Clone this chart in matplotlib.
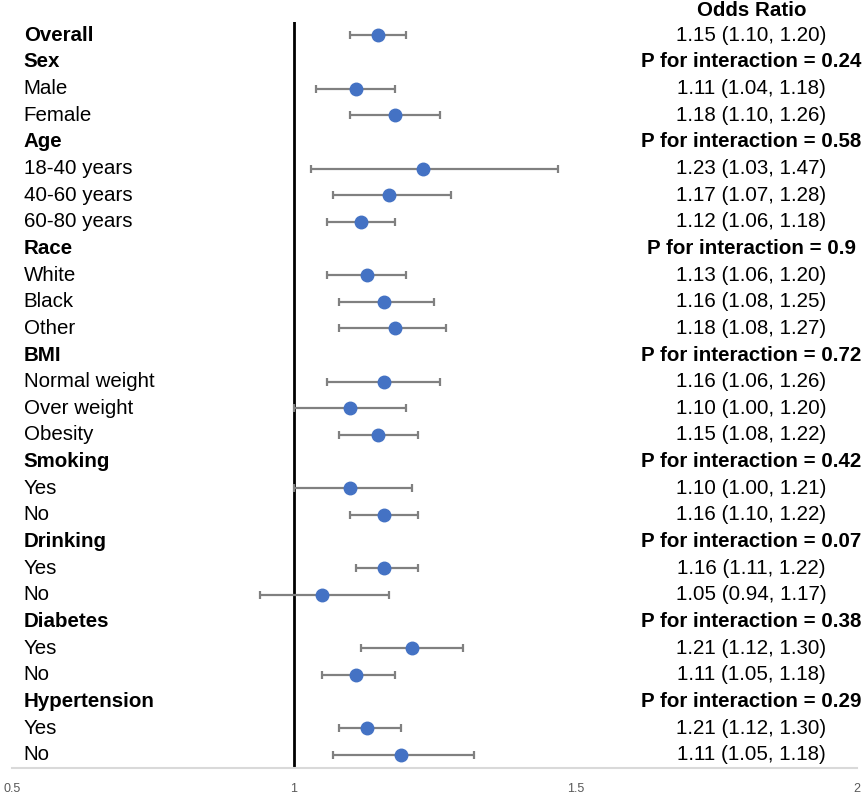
import matplotlib.pyplot as plt
import numpy as np

plt.rcParams['font.family'] = ['Liberation Sans', 'DejaVu Sans']

# rows, top to bottom; None estimate -> group header row
labels = ["Overall", "Sex", "Male", "Female", "Age", "18-40 years", "40-60 years",
          "60-80 years", "Race", "White", "Black", "Other", "BMI", "Normal weight",
          "Over weight", "Obesity", "Smoking", "Yes", "No", "Drinking", "Yes", "No",
          "Diabetes", "Yes", "No", "Hypertension", "Yes", "No"]

# plotted point estimates and CIs (as drawn)
est = [1.15, None, 1.11, 1.18, None, 1.23, 1.17, 1.12, None, 1.13, 1.16, 1.18,
       None, 1.16, 1.10, 1.15, None, 1.10, 1.16, None, 1.16, 1.05, None, 1.21,
       1.11, None, 1.13, 1.19]
lo = [1.10, None, 1.04, 1.10, None, 1.03, 1.07, 1.06, None, 1.06, 1.08, 1.08,
      None, 1.06, 1.00, 1.08, None, 1.00, 1.10, None, 1.11, 0.94, None, 1.12,
      1.05, None, 1.08, 1.07]
hi = [1.20, None, 1.18, 1.26, None, 1.47, 1.28, 1.18, None, 1.20, 1.25, 1.27,
      None, 1.26, 1.20, 1.22, None, 1.21, 1.22, None, 1.22, 1.17, None, 1.30,
      1.18, None, 1.19, 1.32]

# right-hand column text
right_text = ["1.15 (1.10, 1.20)", "P for interaction = 0.24", "1.11 (1.04, 1.18)",
              "1.18 (1.10, 1.26)", "P for interaction = 0.58", "1.23 (1.03, 1.47)",
              "1.17 (1.07, 1.28)", "1.12 (1.06, 1.18)", "P for interaction = 0.9",
              "1.13 (1.06, 1.20)", "1.16 (1.08, 1.25)", "1.18 (1.08, 1.27)",
              "P for interaction = 0.72", "1.16 (1.06, 1.26)", "1.10 (1.00, 1.20)",
              "1.15 (1.08, 1.22)", "P for interaction = 0.42", "1.10 (1.00, 1.21)",
              "1.16 (1.10, 1.22)", "P for interaction = 0.07", "1.16 (1.11, 1.22)",
              "1.05 (0.94, 1.17)", "P for interaction = 0.38", "1.21 (1.12, 1.30)",
              "1.11 (1.05, 1.18)", "P for interaction = 0.29", "1.21 (1.12, 1.30)",
              "1.11 (1.05, 1.18)"]
header = "Odds Ratio"
xticks = [0.5, 1, 1.5, 2]

fig = plt.figure(figsize=(8.65, 7.96), dpi=100)
ax = fig.add_axes([12 / 865, 28 / 796, 845 / 865, 746 / 796])

y = np.arange(len(labels))
mask = np.array([v is not None for v in est])
e = np.array([v for v in est if v is not None])
l = np.array([v for v in lo if v is not None])
h = np.array([v for v in hi if v is not None])
ax.errorbar(e, y[mask], xerr=[e - l, h - e], fmt='o', color='#4472C4', ms=9,
            ecolor='#808080', elinewidth=1.6, capsize=3, capthick=1.6, zorder=3)

ax.axvline(1, color='black', lw=2, zorder=2)

text_x = 0.521
col_x = 1.8126
for i, lab in enumerate(labels):
    bold = est[i] is None or i == 0
    ax.text(text_x, i, lab, ha='left', va='center', fontsize=14.8,
            fontweight='bold' if bold else 'normal')
    rt = right_text[i]
    ax.text(col_x, i, rt, ha='center', va='center', fontsize=14.8,
            fontweight='bold' if rt.startswith("P for") else 'normal', clip_on=False)
ax.text(col_x, -0.94, header, ha='center', va='center', fontsize=14.8,
        fontweight='bold', clip_on=False)

ax.set_xlim(0.5, 2)
ax.set_ylim(27.5, -0.5)
ax.set_xticks(xticks)
ax.set_xticklabels([str(t) for t in xticks])
ax.set_yticks([])
ax.tick_params(axis='x', length=0, pad=11, labelsize=9, labelcolor='#595959')
for s in ['top', 'left', 'right']:
    ax.spines[s].set_visible(False)
ax.spines['bottom'].set_color('#D9D9D9')
ax.spines['bottom'].set_linewidth(1.5)

fig.savefig('out.png', dpi=100)
